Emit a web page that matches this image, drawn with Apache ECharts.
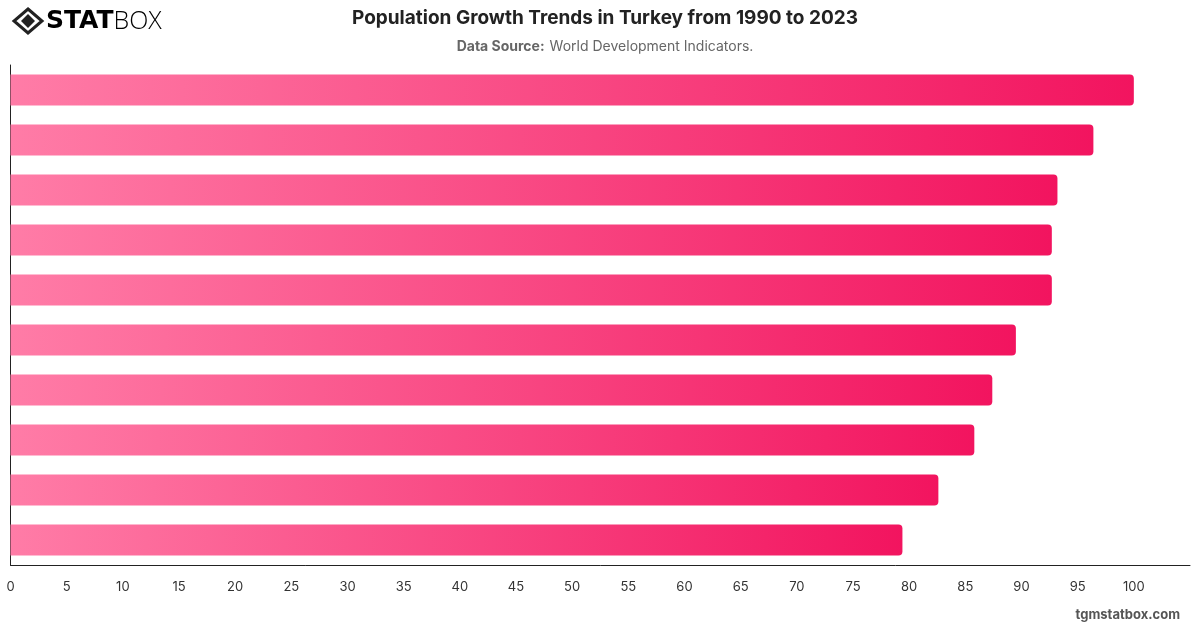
<!DOCTYPE html>
<html>
<head>
<meta charset="utf-8">
<title>Population Growth Trends in Turkey from 1990 to 2023</title>
<script src="https://cdn.jsdelivr.net/npm/echarts@6/dist/echarts.min.js"></script>
<style>
  html, body { margin: 0; padding: 0; background: #fff; }
  #main { width: 1200px; height: 628px; }
</style>
</head>
<body>
<div id="main"></div>
<script>
// bars top to bottom (category labels are not shown on the chart)
var categories = ['1', '2', '3', '4', '5', '6', '7', '8', '9', '10'];
var values = [100, 96.4, 93.2, 92.7, 92.7, 89.5, 87.4, 85.8, 82.6, 79.4];

var chart = echarts.init(document.getElementById('main'));

var font = 'Inter, "Noto Sans", sans-serif';

var option = {
  backgroundColor: '#ffffff',
  animation: false,
  title: [{
    text: 'Population Growth Trends in Turkey from 1990 to 2023',
    left: 600, top: 4, textAlign: 'center',
    textStyle: { fontFamily: font, fontSize: 19, fontWeight: 'bold', color: '#222' }
  }, {
    text: '{b|Data Source:} {n|World Development Indicators.}',
    left: 600, top: 33, textAlign: 'center',
    textStyle: {
      fontWeight: 'normal',
      rich: {
        b: { fontFamily: font, fontSize: 14, fontWeight: 'bold', color: '#666' },
        n: { fontFamily: font, fontSize: 14, fontWeight: 'normal', color: '#666' }
      }
    }
  }],
  grid: { left: 10.5, right: 10, top: 65, bottom: 63, containLabel: false },
  xAxis: {
    type: 'value',
    min: 0, max: 105, interval: 5,
    axisLine: { show: true, lineStyle: { color: '#222', width: 1 } },
    axisTick: { show: false },
    splitLine: { show: false },
    axisLabel: {
      color: '#333', fontFamily: font, fontSize: 13, margin: 16,
      showMaxLabel: false
    }
  },
  yAxis: {
    type: 'category',
    data: categories,
    inverse: true,
    axisLine: { show: true, lineStyle: { color: '#222', width: 1 } },
    axisTick: { show: false },
    axisLabel: { show: false }
  },
  series: [{
    type: 'bar',
    data: values,
    barWidth: 31,
    itemStyle: {
      borderRadius: [0, 4, 4, 0],
      color: new echarts.graphic.LinearGradient(0, 0, 1, 0, [
        { offset: 0, color: '#ff7ca7' },
        { offset: 1, color: '#f2145f' }
      ])
    }
  }],
  graphic: [
    // logo
    {
      type: 'polygon', shape: { points: [[28, 9], [42, 21], [28, 33], [14, 21]] },
      style: { fill: 'none', stroke: '#222', lineWidth: 3 }
    },
    {
      type: 'polygon', shape: { points: [[28, 14], [35, 21], [28, 28], [21, 21]] },
      style: { fill: '#222' }
    },
    {
      type: 'text', left: 46, top: 9,
      style: {
        text: '{a|STAT}{b|BOX}',
        rich: {
          a: { fontFamily: '"DejaVu Sans", sans-serif', fontSize: 25, fontWeight: 900, color: '#222' },
          b: { fontFamily: '"Open Sans", sans-serif', fontSize: 25, fontWeight: 300, color: '#222' }
        }
      }
    },
    {
      type: 'text', right: 20, top: 609,
      style: { text: 'tgmstatbox.com', fontFamily: font, fontSize: 13, fontWeight: 'bold', fill: '#555' }
    }
  ]
};

chart.setOption(option);
</script>
</body>
</html>
